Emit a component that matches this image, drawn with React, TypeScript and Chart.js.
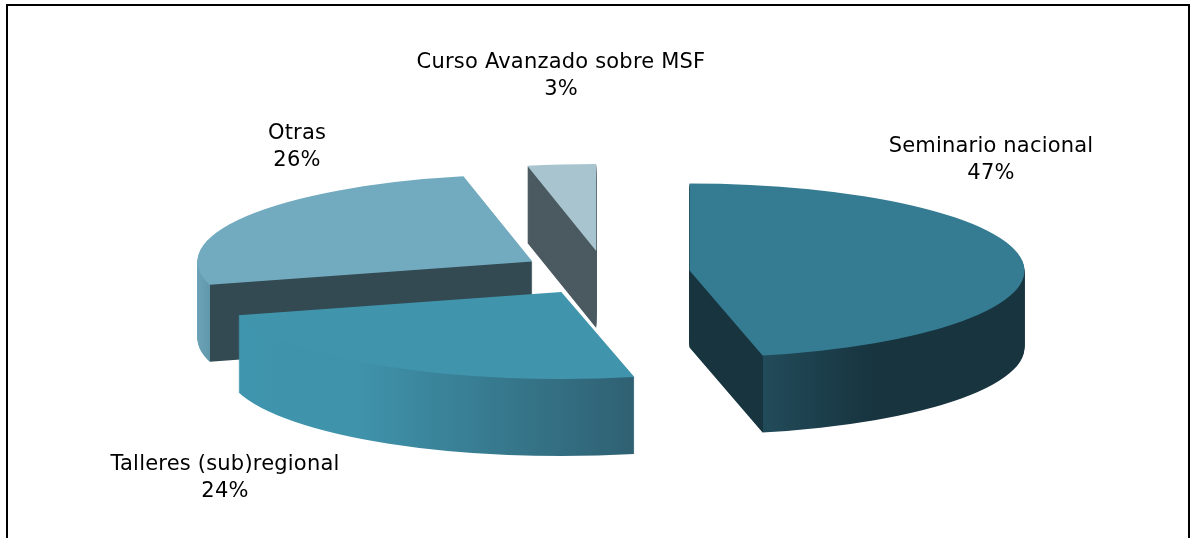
import React, { useEffect, useRef } from "react";
import { Chart, ArcElement, registerables } from "chart.js";

Chart.register(...registerables);

const categories = ["Seminario nacional", "Talleres (sub)regional", "Otras", "Curso Avanzado sobre MSF"];
// Underlying shares; they round to the printed 47, 24, 26 and 3 %.
const shares = [46.5, 24.2, 26, 3.3];

const topColors = ["#357c93", "#4095ad", "#72abbf", "#a7c4cf"];
const cutColors = ["#17343f", "#2f4a52", "#334a52", "#4b5a60"];
const labelCenters = [
  [991, 160],
  [225, 478],
  [297, 147],
  [561, 76],
];

const RADIUS = 335;
const TILT = 0.26;
const EXPLODE = 85;
const DEPTH = 77;
const CENTER_Y = 273;
const FONT = "21px 'DejaVu Sans'";

function wallFill(ctx: CanvasRenderingContext2D, index: number, left: number, right: number, hinge: number) {
  const g = ctx.createLinearGradient(left, 0, right, 0);
  const at = (x: number) => Math.min(1, Math.max(0, (x - left) / (right - left)));
  if (index === 0) {
    g.addColorStop(0, cutColors[0]);
    g.addColorStop(at(hinge), cutColors[0]);
    g.addColorStop(at(hinge + 0.5), "#224b5a");
    g.addColorStop(at(hinge + 110), "#17343f");
    g.addColorStop(1, "#17343f");
  } else if (index === 1) {
    g.addColorStop(0, "#3f95ad");
    g.addColorStop(0.3, "#3f93ab");
    g.addColorStop(1, "#2f6072");
  } else if (index === 2) {
    g.addColorStop(0, "#6ca3b7");
    g.addColorStop(at(hinge), "#6198ac");
    g.addColorStop(at(hinge + 0.5), cutColors[2]);
    g.addColorStop(1, cutColors[2]);
  } else {
    g.addColorStop(0, cutColors[3]);
    g.addColorStop(1, cutColors[3]);
  }
  return g;
}

const pie3d = {
  id: "pie3d",
  beforeDatasetsDraw(chart: any) {
    const ctx: CanvasRenderingContext2D = chart.ctx;
    const arcs = chart.getDatasetMeta(0).data;
    const cx = (chart.chartArea.left + chart.chartArea.right) / 2;
    const cy = (chart.chartArea.top + chart.chartArea.bottom) / 2;
    ctx.save();
    ctx.translate(0, CENTER_Y);
    ctx.scale(1, TILT);
    ctx.translate(0, -cy);
    const order = [2, 1, 3, 0];
    for (const i of order) {
      const a = arcs[i];
      const mid = (a.startAngle + a.endAngle) / 2;
      const x = cx + Math.cos(mid) * EXPLODE;
      const y = cy + Math.sin(mid) * EXPLODE;
      const startX = x + a.outerRadius * Math.cos(a.startAngle);
      const endX = x + a.outerRadius * Math.cos(a.endAngle);
      const xs = [startX, endX, x];
      const left = Math.min(...xs, a.startAngle < Math.PI && a.endAngle > Math.PI ? x - a.outerRadius : Infinity) - 1;
      const crossesRight = a.startAngle < 0 && a.endAngle > 0;
      const right = (crossesRight ? x + a.outerRadius : Math.max(...xs)) + 1;
      const fill = wallFill(ctx, i, left, right, i === 2 ? startX : endX);
      const make = (dy: number, color: any) =>
        new (ArcElement as any)({
          x,
          y: y + dy,
          startAngle: a.startAngle,
          endAngle: a.endAngle,
          circumference: a.circumference,
          innerRadius: 0,
          outerRadius: a.outerRadius,
          options: { ...a.options, backgroundColor: color, borderWidth: 0, offset: 0, spacing: 0 },
        });
      for (let d = DEPTH; d > 0; d -= 1) make(d / TILT, fill).draw(ctx);
      make(0, topColors[i]).draw(ctx);
    }
    ctx.restore();
    return false;
  },
  afterDraw(chart: any) {
    const ctx: CanvasRenderingContext2D = chart.ctx;
    ctx.save();
    ctx.strokeStyle = "#000";
    ctx.lineWidth = 2;
    ctx.beginPath();
    ctx.moveTo(7, 540);
    ctx.lineTo(7, 5);
    ctx.lineTo(1189, 5);
    ctx.lineTo(1189, 540);
    ctx.stroke();
    ctx.fillStyle = "#000";
    ctx.font = FONT;
    (ctx as any).letterSpacing = "0.2px";
    ctx.textAlign = "center";
    ctx.textBaseline = "middle";
    categories.forEach((name, i) => {
      const [lx, ly] = labelCenters[i];
      ctx.fillText(name, lx, ly - 13);
      ctx.fillText(`${Math.round(shares[i])}%`, lx, ly + 14);
    });
    ctx.restore();
  },
};

export default function App() {
  const ref = useRef<HTMLCanvasElement>(null);
  useEffect(() => {
    document.body.style.margin = "0";
    document.body.style.background = "#fff";
    const chart = new Chart(ref.current!, {
      type: "pie",
      data: {
        labels: categories,
        datasets: [{ data: shares, backgroundColor: topColors, borderWidth: 0 }],
      },
      options: {
        responsive: false,
        animation: false,
        radius: RADIUS,
        layout: { padding: { left: 14 } },
        plugins: { legend: { display: false }, tooltip: { enabled: false }, title: { display: false } },
      } as any,
      plugins: [pie3d as any],
    });
    return () => chart.destroy();
  }, []);
  return <canvas ref={ref} width={1196} height={538} style={{ display: "block" }} />;
}
